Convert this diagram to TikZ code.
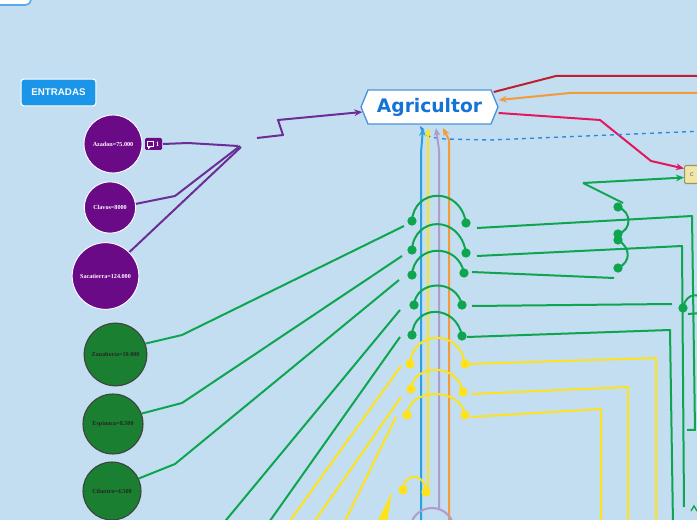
\documentclass[tikz,border=0pt]{standalone}
\usepackage{fontspec}
\setmainfont{Liberation Serif}
\newfontfamily\hexfont{DejaVu Sans}
\newfontfamily\btnfont{Liberation Sans}
\usetikzlibrary{arrows.meta, shapes.symbols, calc}
\definecolor{bgblue}{HTML}{C3DEF0}
\definecolor{tlblue}{HTML}{5BA8EE}
\definecolor{entblue}{HTML}{1B95E8}
\definecolor{hexborder}{HTML}{4A94DE}
\definecolor{agriblue}{HTML}{1573D6}
\definecolor{mpurple}{HTML}{6A0A87}
\definecolor{plinec}{HTML}{6B2D96}
\definecolor{dkgreen}{HTML}{1A7F30}
\definecolor{mgreen}{HTML}{0DA54F}
\definecolor{myellow}{HTML}{FFE31A}
\definecolor{vblue}{HTML}{29A3DF}
\definecolor{vlav}{HTML}{B09CCC}
\definecolor{vorange}{HTML}{F39A3B}
\definecolor{mred}{HTML}{BE1E2D}
\definecolor{mpink}{HTML}{E3175E}
\definecolor{dashblue}{HTML}{2B87E3}
\definecolor{boxfill}{HTML}{EFE6A8}
\definecolor{boxborder}{HTML}{9A9468}

\begin{document}
\begin{tikzpicture}[x=0.75pt, y=-0.75pt, >={Stealth[length=6pt, width=5pt]}, line width=1.5pt,
  gline/.style={mgreen, line width=1.5pt, line join=round},
  yline/.style={myellow, line width=1.5pt, line join=round},
  pline/.style={plinec, line width=1.5pt, line join=round},
  gdot/.style={circle, fill=mgreen, inner sep=0pt, minimum size=7pt},
  ydot/.style={circle, fill=myellow, inner sep=0pt, minimum size=7pt},
  pcircle/.style={circle, fill=mpurple, draw=white, line width=0.7pt, text=white,
    font=\bfseries\fontsize{4.6}{5}\selectfont, inner sep=0pt},
  gcircle/.style={circle, fill=dkgreen, draw=black!75, line width=0.8pt, text=black!85,
    font=\bfseries\fontsize{4.6}{5}\selectfont, inner sep=0pt}]

% Background
\useasboundingbox (0,0) rectangle (697,520);
\clip (0,0) rectangle (697,520);
\fill[bgblue] (0,0) rectangle (697,520);

% Corner box
\draw[fill=white, draw=tlblue, line width=1.2pt, rounded corners=4pt] (-20,-20) rectangle (31,5);

% Entradas button
\node[fill=entblue, draw=white, line width=0.8pt, rounded corners=2pt, minimum width=56pt, minimum height=20pt,
  text=white, font=\btnfont\bfseries\fontsize{7.3}{8}\selectfont] (entradas) at (58.5,92.5) {ENTRADAS};

% Purple inputs
\node[pcircle, minimum size=43.5pt] (azadon) at (113,144) {Azadon=75.000};
\node[pcircle, minimum size=38.5pt] (clavos) at (110,207.5) {Clavos=8000};
\node[pcircle, minimum size=50pt] (saca) at (105.5,276) {Sacatierra=124.000};
\node[fill=mpurple, rounded corners=1pt, minimum width=12.75pt, minimum height=9pt, inner sep=0pt] (tag) at (153.5,144) {};
\draw[white, line width=0.6pt] (147,141) rectangle (153,146.5);
\draw[white, line width=0.6pt] (148.5,146.5) -- (148.5,148.5) -- (150.5,146.5);
\node[text=white, font=\bfseries\fontsize{5}{5}\selectfont, inner sep=0pt] at (157.5,144.5) {1};

\draw[pline] (tag.east) -- (188,143) -- (238,146);
\draw[pline] (clavos.8) -- (175,196) -- (240,146);
\draw[pline] (saca.45) -- (241,147);

% Central node
\node[signal, signal to=west and east, signal pointer angle=135, draw=hexborder, fill=white, line width=1pt,
  minimum width=102.75pt, minimum height=25.5pt, inner sep=2pt, text=agriblue,
  font=\hexfont\bfseries\fontsize{14}{16}\selectfont] (agri) at (429.5,107) {Agricultor};
\draw[pline, ->] (257,138) -- (283,135) -- (278,120) -- ($(agri.west)+(2,5)$);

% Right side links
\node[fill=boxfill, draw=boxborder, line width=0.8pt, rounded corners=1pt, anchor=north west,
  minimum width=30pt, minimum height=13.5pt, text width=22pt, align=left, inner sep=3pt,
  text=black!55, font=\sffamily\fontsize{6}{7}\selectfont] (box) at (684,165) {c};
\draw[mred, line width=1.5pt] ($(agri.east)+(-5,-15)$) -- (556,76) -- (705,76);
\draw[vorange, line width=1.5pt, ->] (705,93) -- (570,93) -- ($(agri.east)+(0,-7)$);
\draw[mpink, line width=1.5pt, ->] ($(agri.east)+(0,6)$) -- (600,120) -- (651,161) -- ($(box.west)+(0,-6)$);
\draw[dashblue, line width=1pt, dashed, {Stealth[length=4pt, width=3pt]}-] (420,126) .. controls (427,137) .. (445,139) -- (490,140) -- (705,131);

% Vertical feeders
\draw[vblue, line width=1.5pt, ->] (421,525) -- (421,153) -- (423,128);
\draw[myellow, line width=1.5pt, ->] (428,492) -- (428,128);
\draw[vlav, line width=1.5pt, ->] (439,510) -- (439,150) -- (436,128);
\draw[vorange, line width=1.5pt, ->] (449,525) -- (449,140) -- (443,128);
\draw[vlav, line width=1.5pt] (432,530) circle (22);

% Green inputs
\node[gcircle, minimum size=47pt] (zana) at (115.5,354.5) {Zanahoria=10.000};
\node[gcircle, minimum size=45pt] (espi) at (113,424) {Espinaca=8.500};
\node[gcircle, minimum size=43.5pt] (cila) at (112,491) {Cilantro=4.500};

\draw[gline] (zana.20) -- (182,335) -- (404,226);
\draw[gline] (espi.20) -- (182,403) -- (402,256);
\draw[gline] (cila.25) -- (175,464) -- (399,280);
\draw[gline] (222,525) -- (400,310);
\draw[gline] (267,525) -- (400,337);

% Green arcs
\node[gdot] (gl1) at (412,221) {}; \node[gdot] (gr1) at (466,223) {};
\node[gdot] (gl2) at (412,250) {}; \node[gdot] (gr2) at (466,253) {};
\node[gdot] (gl3) at (412,275) {}; \node[gdot] (gr3) at (464,273) {};
\node[gdot] (gl4) at (414,305) {}; \node[gdot] (gr4) at (462,305) {};
\node[gdot] (gl5) at (412,335) {}; \node[gdot] (gr5) at (462,336) {};
\draw[gline] (gl1.center) .. controls (414,188) and (460,186) .. (gr1.center);
\draw[gline] (gl2.center) .. controls (414,216) and (460,214) .. (gr2.center);
\draw[gline] (gl3.center) .. controls (414,244) and (458,242) .. (gr3.center);
\draw[gline] (gl4.center) .. controls (416,280) and (456,278) .. (gr4.center);
\draw[gline] (gl5.center) .. controls (414,304) and (456,304) .. (gr5.center);

\draw[gline] (477,228) -- (692,216) -- (695,430) -- (687,430);
\draw[gline] (477,256) -- (682,246) -- (684,507);
\draw[gline] (472,272) -- (614,278);
\draw[gline] (472,306) -- (672,304);
\draw[gline] (467,337) -- (670,330) -- (673,525);

% Green cluster near box
\draw[gline, ->] (583,183) -- ($(box.west)+(0,3)$);
\draw[gline] (583,183) -- (623,203);
\node[gdot] (gs1) at (618,207) {};
\node[gdot] (gs2) at (618,234) {};
\node[gdot] (gs3) at (618,240) {};
\node[gdot] (gs4) at (618,268) {};
\draw[gline] (gs1.center) .. controls (632,212) and (632,230) .. (gs2.center);
\draw[gline] (gs3.center) .. controls (631,248) and (631,262) .. (gs4.center);
\node[gdot] (ge1) at (683,308) {};
\draw[gline] (ge1.center) .. controls (685,296) and (695,292) .. (702,298);
\draw[gline] (688,314) -- (702,313);
\draw[mgreen, line width=1pt] (691,511) -- (694,506) -- (697,511);

% Yellow arcs
\node[ydot] (yl1) at (410,364) {}; \node[ydot] (yr1) at (465,364) {};
\node[ydot] (yl2) at (411,389) {}; \node[ydot] (yr2) at (463,392) {};
\node[ydot] (yl3) at (407,415) {}; \node[ydot] (yr3) at (465,415) {};
\node[ydot] (yl4) at (403,490) {}; \node[ydot] (yr4) at (426,492) {};
\draw[yline] (yl1.center) .. controls (412,330) and (460,328) .. (yr1.center);
\draw[yline] (yl2.center) .. controls (413,364) and (458,362) .. (yr2.center);
\draw[yline] (yl3.center) .. controls (409,387) and (461,387) .. (yr3.center);
\draw[yline] (yl4.center) .. controls (404,472) and (425,472) .. (yr4.center);

\draw[yline] (467,364) -- (656,358) -- (656,525);
\draw[yline] (472,394) -- (628,387) -- (628,525);
\draw[yline] (471,417) -- (601,409) -- (601,525);
\draw[yline] (287,525) -- (401,366);
\draw[yline] (312,525) -- (401,397);
\draw[yline] (343,525) -- (396,417);
\fill[myellow] (377,522) -- (392,492) -- (387,522) -- cycle;

\end{tikzpicture}
\end{document}
